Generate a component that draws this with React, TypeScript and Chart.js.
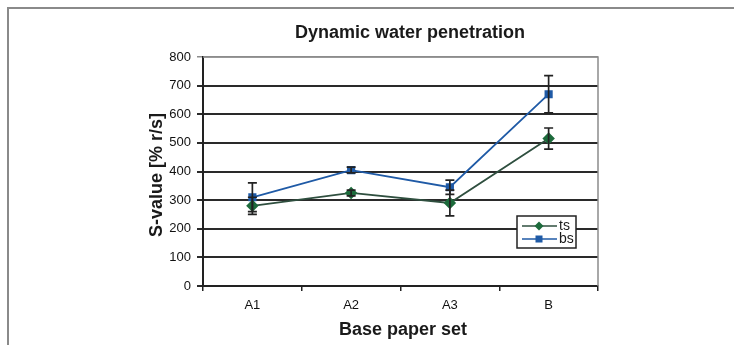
import React, { useEffect, useRef } from "react";
import { Chart, registerables } from "chart.js";

Chart.register(...registerables);

const categories = ["A1", "A2", "A3", "B"];
const tsValues = [280, 325, 290, 515];
const tsErrors = [30, 10, 45, 37];
const bsValues = [310, 405, 345, 670];
const bsErrors = [50, 10, 25, 65];
const yTicks = [0, 100, 200, 300, 400, 500, 600, 700, 800];

const chartTitle = "Dynamic water penetration";
const xTitle = "Base paper set";
const yTitle = "S-value [% r/s]";

const TS_COLOR = "#1d6b3c";
const TS_LINE = "#2f4f3f";
const BS_COLOR = "#1f5aa6";
const FONT = "'Liberation Sans', Arial, sans-serif";

const decorPlugin = {
  id: "decor",
  afterDatasetsDraw(chart: any) {
    const ctx = chart.ctx;
    const x = chart.scales.x;
    const y = chart.scales.y;
    ctx.save();
    const series = [
      { v: tsValues, e: tsErrors },
      { v: bsValues, e: bsErrors },
    ];
    ctx.strokeStyle = "#222";
    ctx.lineWidth = 1.7;
    series.forEach((s) => {
      s.v.forEach((val, i) => {
        const px = x.getPixelForValue(i);
        const top = y.getPixelForValue(val + s.e[i]);
        const bot = y.getPixelForValue(val - s.e[i]);
        ctx.beginPath();
        ctx.moveTo(px, top);
        ctx.lineTo(px, bot);
        ctx.moveTo(px - 4.5, top);
        ctx.lineTo(px + 4.5, top);
        ctx.moveTo(px - 4.5, bot);
        ctx.lineTo(px + 4.5, bot);
        ctx.stroke();
      });
    });
    ctx.restore();
  },
  afterDraw(chart: any) {
    const ctx = chart.ctx;
    const ca = chart.chartArea;
    ctx.save();
    // outer frame
    ctx.strokeStyle = "#8a8a8a";
    ctx.lineWidth = 2;
    ctx.beginPath();
    ctx.moveTo(8, 345);
    ctx.lineTo(8, 8);
    ctx.lineTo(734, 8);
    ctx.stroke();
    // plot top/right border
    ctx.strokeStyle = "#8c8c8c";
    ctx.lineWidth = 1.5;
    ctx.beginPath();
    ctx.moveTo(ca.left, ca.top);
    ctx.lineTo(ca.right, ca.top);
    ctx.lineTo(ca.right, ca.bottom);
    ctx.stroke();

    // titles
    ctx.fillStyle = "#1a1a1a";
    ctx.textAlign = "center";
    ctx.textBaseline = "middle";
    ctx.font = `bold 18px ${FONT}`;
    ctx.fillText(chartTitle, 410, 33);
    ctx.fillText(xTitle, 403, 330);
    ctx.save();
    ctx.translate(157, 175);
    ctx.rotate(-Math.PI / 2);
    ctx.fillText(yTitle, 0, 0);
    ctx.restore();

    // legend
    const lx = 517, ly = 216, lw = 59, lh = 32;
    ctx.fillStyle = "#fff";
    ctx.fillRect(lx, ly, lw, lh);
    ctx.strokeStyle = "#222";
    ctx.lineWidth = 1.5;
    ctx.strokeRect(lx, ly, lw, lh);
    const items = [
      { label: "ts", color: TS_COLOR, line: TS_LINE, shape: "diamond", yy: ly + 10 },
      { label: "bs", color: BS_COLOR, line: BS_COLOR, shape: "square", yy: ly + 23 },
    ];
    items.forEach((it) => {
      ctx.strokeStyle = it.line;
      ctx.lineWidth = 1.7;
      ctx.beginPath();
      ctx.moveTo(lx + 5, it.yy);
      ctx.lineTo(lx + 40, it.yy);
      ctx.stroke();
      ctx.fillStyle = it.color;
      const cx = lx + 22;
      if (it.shape === "diamond") {
        ctx.beginPath();
        ctx.moveTo(cx, it.yy - 4.5);
        ctx.lineTo(cx + 4.5, it.yy);
        ctx.lineTo(cx, it.yy + 4.5);
        ctx.lineTo(cx - 4.5, it.yy);
        ctx.closePath();
        ctx.fill();
      } else {
        ctx.fillRect(cx - 3.5, it.yy - 3.5, 7, 7);
      }
      ctx.fillStyle = "#1a1a1a";
      ctx.textAlign = "left";
      ctx.font = `14px ${FONT}`;
      ctx.fillText(it.label, lx + 42, it.yy);
    });
    ctx.restore();
  },
};

export default function App() {
  const ref = useRef<HTMLCanvasElement>(null);
  useEffect(() => {
    document.body.style.margin = "0";
    const canvas = ref.current!;
    const chart = new Chart(canvas, {
      type: "line",
      data: {
        labels: categories,
        datasets: [
          {
            label: "ts",
            data: tsValues,
            borderColor: TS_LINE,
            backgroundColor: TS_COLOR,
            pointBackgroundColor: TS_COLOR,
            pointBorderColor: TS_COLOR,
            pointStyle: "rectRot",
            pointRadius: 5,
            borderWidth: 1.8,
            tension: 0,
          },
          {
            label: "bs",
            data: bsValues,
            borderColor: BS_COLOR,
            backgroundColor: BS_COLOR,
            pointBackgroundColor: BS_COLOR,
            pointBorderColor: BS_COLOR,
            pointStyle: "rect",
            pointRadius: 4.5,
            borderWidth: 1.8,
            tension: 0,
          },
        ],
      },
      options: {
        animation: false,
        responsive: false,
        layout: { padding: { left: 0, top: 57, right: 136, bottom: 0 } },
        plugins: { legend: { display: false }, title: { display: false }, tooltip: { enabled: false } },
        scales: {
          x: {
            type: "category",
            offset: true,
            afterFit: (s: any) => { s.height = 59; },
            grid: {
              offset: true,
              drawOnChartArea: false,
              drawTicks: true,
              tickLength: 5,
              color: "#222",
              lineWidth: 1.5,
            },
            border: { color: "#222", width: 2 },
            ticks: {
              color: "#111",
              font: { family: FONT, size: 13 },
              padding: 7,
            },
          },
          y: {
            min: 0,
            max: 800,
            afterFit: (s: any) => { s.width = 203; },
            afterBuildTicks: (s: any) => { s.ticks = yTicks.map((v) => ({ value: v })); },
            grid: {
              color: (c: any) => (c.tick && c.tick.value === 800 ? "#8c8c8c" : "#2a2a2a"),
              lineWidth: (c: any) => (c.tick && c.tick.value === 800 ? 1.5 : 2),
              drawTicks: true,
              tickLength: 6,
            },
            border: { color: "#222", width: 2 },
            ticks: {
              color: "#111",
              font: { family: FONT, size: 13 },
              padding: 6,
            },
          },
        },
      },
      plugins: [decorPlugin],
    });
    return () => chart.destroy();
  }, []);
  return (
    <div style={{ position: "absolute", left: 0, top: 0, width: 734, height: 345, background: "#fff" }}>
      <canvas ref={ref} width={734} height={345} style={{ width: 734, height: 345 }} />
    </div>
  );
}
